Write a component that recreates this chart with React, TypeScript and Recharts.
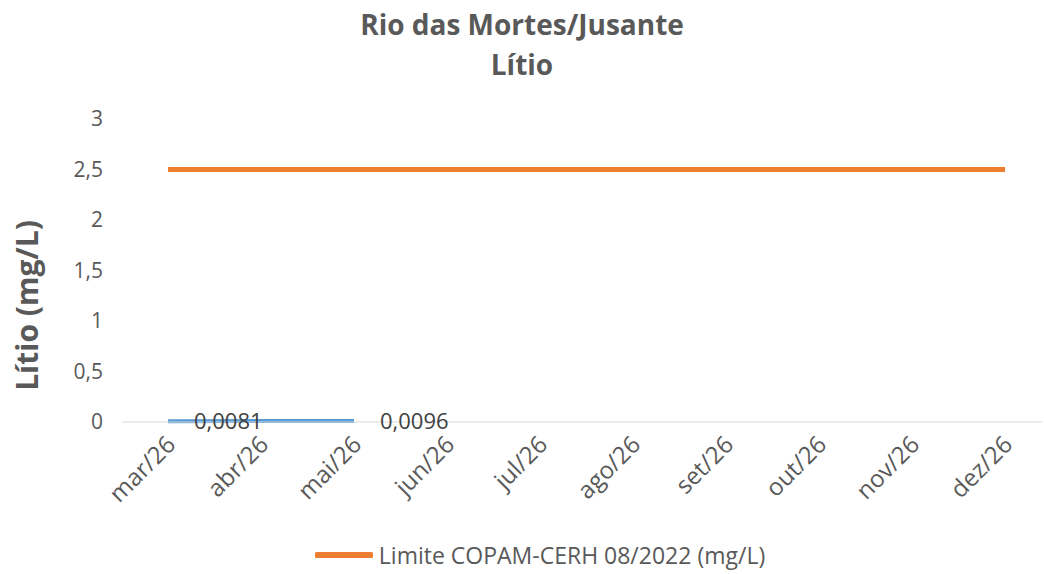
import React from 'react';
import { LineChart, Line, XAxis, YAxis, Legend, LabelList } from 'recharts';

const categories = ['mar/26', 'abr/26', 'mai/26', 'jun/26', 'jul/26', 'ago/26', 'set/26', 'out/26', 'nov/26', 'dez/26'];
const litioValues: (number | null)[] = [0.0081, null, 0.0096, null, null, null, null, null, null, null];
const limiteValues: number[] = [2.5, 2.5, 2.5, 2.5, 2.5, 2.5, 2.5, 2.5, 2.5, 2.5];
const yTicks = [0, 0.5, 1, 1.5, 2, 2.5, 3];

const data = categories.map((c, i) => ({ name: c, litio: litioValues[i], limite: limiteValues[i] }));

const FONT = '"Open Sans", "Noto Sans", sans-serif';
const fmt = (v: any) => (v === null || v === undefined ? '' : String(v).replace('.', ','));

const XTick = (props: any) => {
  const { x, y, payload } = props;
  return (
    <text
      x={x + 9}
      y={y + 16}
      textAnchor="end"
      transform={`rotate(-45, ${x + 9}, ${y + 16})`}
      fill="#595959"
      fontSize={24}
      fontFamily={FONT}
    >
      {payload.value}
    </text>
  );
};

const ValueLabel = (props: any) => {
  const { x, y, value } = props;
  if (value === null || value === undefined) return null;
  return (
    <text x={x + 26} y={y + 8} fill="#404040" fontSize={22} fontFamily={FONT} textAnchor="start">
      {fmt(value)}
    </text>
  );
};

const LegendContent = (props: any) => {
  const items = (props.payload || []).filter((p: any) => p.type !== 'none');
  return (
    <div style={{ display: 'flex', justifyContent: 'center', alignItems: 'center', height: 32, paddingLeft: 38 }}>
      {items.map((it: any) => (
        <div key={it.value} style={{ display: 'flex', alignItems: 'center' }}>
          <svg width={58} height={10} style={{ marginRight: 6 }}>
            <line x1={2} y1={5} x2={56} y2={5} stroke={it.color} strokeWidth={6} strokeLinecap="round" />
          </svg>
          <span style={{ fontFamily: FONT, fontSize: 23, color: '#595959' }}>{it.value}</span>
        </div>
      ))}
    </div>
  );
};

export default function App() {
  return (
    <div style={{ position: 'absolute', left: 0, top: 0, width: 1044, height: 574, background: '#fff' }}>
      <div
        style={{
          position: 'absolute', left: 0, width: 1044, top: 4, textAlign: 'center',
          fontFamily: FONT, fontWeight: 'bold', fontSize: 28, color: '#595959', lineHeight: '40px',
        }}
      >
        <div>Rio das Mortes/Jusante</div>
        <div>Lítio</div>
      </div>
      <LineChart width={1044} height={574} data={data} margin={{ top: 119, right: 2, bottom: 3, left: 0 }}>
        <XAxis
          dataKey="name"
          padding={{ left: 46, right: 37 }}
          axisLine={{ stroke: '#d9d9d9', strokeWidth: 1 }}
          tickLine={false}
          tick={<XTick />}
          height={117}
          interval={0}
        />
        <YAxis
          domain={[0, 3]}
          ticks={yTicks}
          axisLine={false}
          tickLine={false}
          tickSize={0}
          tickMargin={19}
          width={122}
          tickFormatter={fmt}
          tick={{ fill: '#595959', fontSize: 21, fontFamily: FONT }}
          label={{
            value: 'Lítio (mg/L)', angle: -90, position: 'insideLeft', dx: 22, dy: 35,
            style: { fill: '#595959', fontSize: 30, fontWeight: 'bold', fontFamily: FONT, textAnchor: 'middle' },
          }}
        />
        <Legend verticalAlign="bottom" height={32} content={<LegendContent />} />
        <Line
          dataKey="litio"
          name="Lítio (mg/L)"
          stroke="#5B9BD5"
          strokeWidth={4}
          dot={false}
          connectNulls
          legendType="none"
          isAnimationActive={false}
        >
          <LabelList dataKey="litio" content={<ValueLabel />} />
        </Line>
        <Line
          dataKey="limite"
          name="Limite COPAM-CERH 08/2022 (mg/L)"
          stroke="#ED7D31"
          strokeWidth={5}
          dot={false}
          isAnimationActive={false}
        />
      </LineChart>
    </div>
  );
}
